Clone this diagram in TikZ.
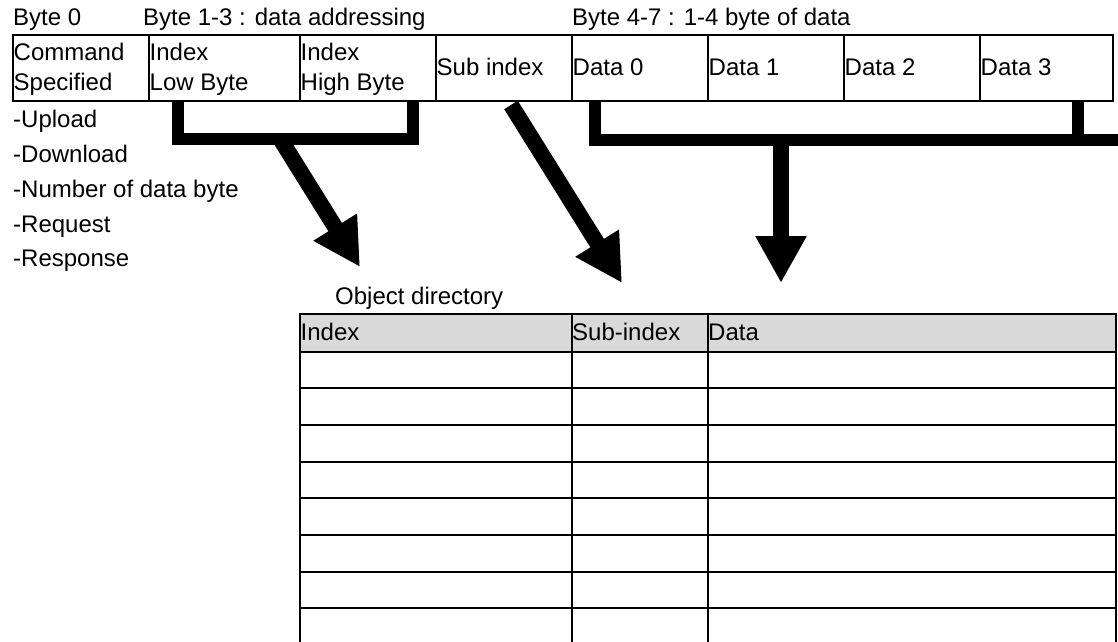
\documentclass[tikz,border=0pt]{standalone}
\usepackage{fontspec}
\setmainfont{Liberation Sans}
\usetikzlibrary{arrows.meta}
\definecolor{hdrgray}{RGB}{217,217,217}
\begin{document}
\begin{tikzpicture}[x=1pt,y=-1pt,
  txt/.style={anchor=base west, inner sep=0pt, font=\fontsize{24}{30}\selectfont},
  gridline/.style={line width=2.2pt},
  brack/.style={line width=12pt, line join=miter},
  fat/.style={line width=16pt, -{Triangle[length=47pt 0 0, width=48pt 0 0]}}]
\useasboundingbox (0,0) rectangle (1118,641);
\fill[white] (0,0) rectangle (1118,641);

% group labels
\node[txt] (b0) at (13,25) {Byte 0};
\node[txt] (b13) at (143,25) {Byte 1-3 : data addressing};
\node[txt] (b47) at (572,25) {Byte 4-7 : 1-4 byte of data};

% top table (message bytes)
\draw[gridline] (13,34.7) rectangle (1113,101.3);
\foreach \x in {149,300,436,572,708,844,980} \draw[gridline] (\x,34.7) -- (\x,101.3);
\node[txt] (c0a) at (13.5,60) {Command};
\node[txt] (c0b) at (13.5,90) {Specified};
\node[txt] (c1a) at (149.5,60) {Index};
\node[txt] (c1b) at (149.5,90) {Low Byte};
\node[txt] (c2a) at (300.5,60) {Index};
\node[txt] (c2b) at (300.5,90) {High Byte};
\node[txt] (c3) at (436.5,75) {Sub index};
\node[txt] (c4) at (572.5,75) {Data 0};
\node[txt] (c5) at (708.5,75) {Data 1};
\node[txt] (c6) at (844.5,75) {Data 2};
\node[txt] (c7) at (980.5,75) {Data 3};

% command list
\node[txt] (l1) at (13,127.5) {-Upload};
\node[txt] (l2) at (13,162.5) {-Download};
\node[txt] (l3) at (13,197.3) {-Number of data byte};
\node[txt] (l4) at (13,232.1) {-Request};
\node[txt] (l5) at (13,266.9) {-Response};

% brackets
\coordinate (ba) at (178,102);
\coordinate (bb) at (178,139);
\coordinate (bc) at (413,139);
\coordinate (bd) at (413,101);
\draw[brack] (ba) -- (bb) -- (bc) -- (bd);
\coordinate (da) at (595,102);
\coordinate (db) at (595,139.5);
\coordinate (dc) at (1130,139.5);
\coordinate (dd) at (1077.5,100);
\coordinate (de) at (1077.5,139.5);
\draw[brack] (da) -- (db) -- (dc);
\draw[brack] (dd) -- (de);

% arrows
\coordinate (a1s) at (280.3,139);
\coordinate (a1e) at (360,267);
\coordinate (a2s) at (511,105);
\coordinate (a2e) at (622,283);
\coordinate (a3s) at (781,139.5);
\coordinate (a3e) at (781,283);
\draw[fat] (a1s) -- (a1e);
\draw[fat] (a2s) -- (a2e);
\draw[fat] (a3s) -- (a3e);

% object directory
\node[txt] (od) at (335,304) {Object directory};
\fill[hdrgray] (300,314.3) rectangle (1116,351.7);
\draw[gridline] (300,314.3) -- (1116,314.3);
\foreach \y in {351.7,388.3,425,461.7,498.3,535,571.7,608.3}
  \draw[gridline] (300,\y) -- (1116,\y);
\foreach \x in {300,571.7,707.7,1116} \draw[gridline] (\x,313.2) -- (\x,650);
\node[txt] (h1) at (300.5,340) {Index};
\node[txt] (h2) at (572,340) {Sub-index};
\node[txt] (h3) at (708,340) {Data};
\end{tikzpicture}
\end{document}
